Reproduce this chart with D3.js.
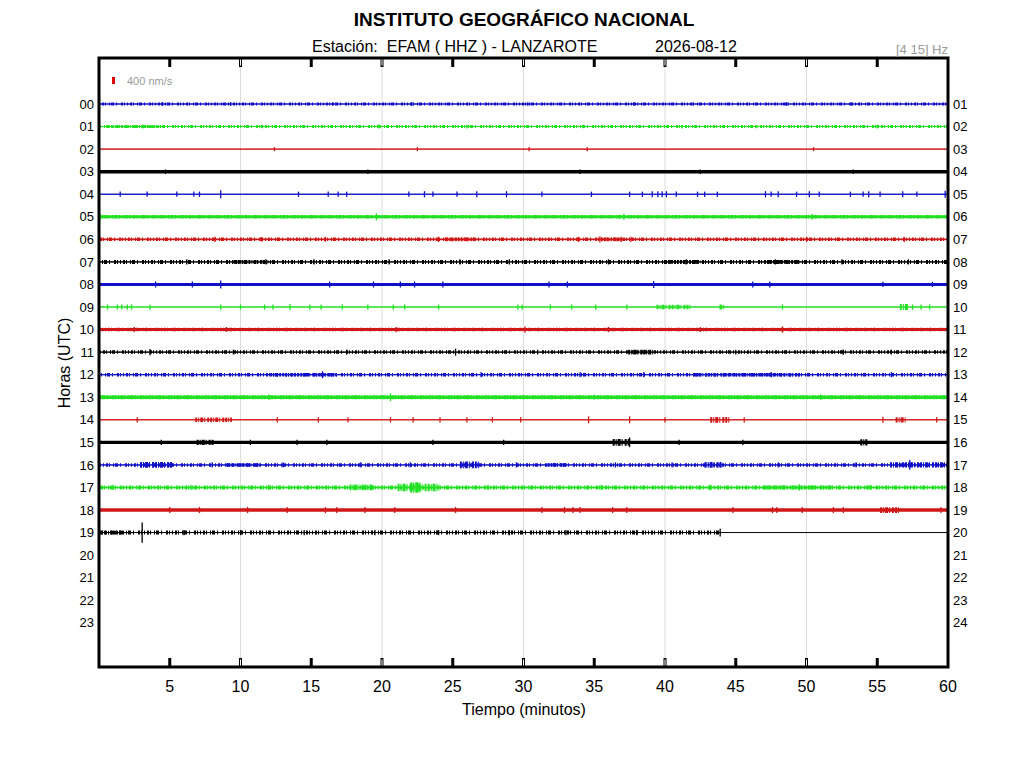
<!DOCTYPE html>
<html>
<head>
<meta charset="utf-8">
<script src="https://cdn.jsdelivr.net/npm/d3@7"></script>
<style>
  body { margin: 0; background: #fff; }
  text { font-family: Arial, "Liberation Sans", sans-serif; }
</style>
</head>
<body>
<div id="chartArea"></div>
<script>
const width = 1024;
const height = 768;

// etiquetas
const leftLabels = ["00","01","02","03","04","05","06","07","08","09","10","11",
                    "12","13","14","15","16","17","18","19","20","21","22","23"];
const rightLabels = ["01","02","03","04","05","06","07","08","09","10","11","12",
                     "13","14","15","16","17","18","19","20","21","22","23","24"];
const minuteTicks = [5, 10, 15, 20, 25, 30, 35, 40, 45, 50, 55, 60];
const gridMinutes = [10, 20, 30, 40, 50];
const traceColors = ["#1010c8", "#22e022", "#d01818", "#000000"];

const coreAmp  = [60, 60, 40, 200, 45, 170, 110, 45, 170, 45, 170, 45, 60, 200, 50, 180, 60, 110, 200, 60];
const speckAmp = [170, 170, 0, 0, 0, 200, 200, 230, 0, 0, 200, 200, 200, 230, 0, 0, 200, 230, 0, 230];
const traceEnd = [60, 60, 60, 60, 60, 60, 60, 60, 60, 60, 60, 60, 60, 60, 60, 60, 60, 60, 60, 43.9];

// eventos cortos [minuto, amplitud nm/s]
const spikes = [
  /*00*/ [[4.5,230],[9.3,230],[16.5,200],[22.1,230],[30.3,200],[37.8,230],[42.0,200],[48.6,230],[53.2,200]],
  /*01*/ [[3.1,230],[11.5,200],[19.8,230],[26.0,230],[34.2,200],[41.2,230],[46.5,200],[55.0,230]],
  /*02*/ [[12.4,230],[22.5,230],[30.4,230],[34.5,230],[50.5,230]],
  /*03*/ [[4.7,260],[19.0,260],[34.0,260],[42.5,260],[53.3,260]],
  /*04*/ [[1.5,300],[3.4,300],[5.5,300],[6.7,300],[7.1,300],[8.6,450],[14.1,300],[16.2,300],[16.9,300],
          [17.5,300],[21.9,300],[23.0,350],[23.6,300],[25.3,300],[26.7,350],[28.8,350],[31.3,300],[34.8,300],
          [37.5,300],[38.4,300],[39.1,350],[39.5,350],[39.8,350],[40.1,350],[40.8,300],[42.3,300],[42.8,300],
          [43.7,300],[47.1,350],[47.5,300],[48.0,350],[49.3,300],[50.2,350],[50.9,300],[53.1,300],[54.0,300],
          [54.4,350],[55.2,300],[56.8,350],[57.8,300],[59.8,400]],
  /*05*/ [[0.1,350],[19.6,400],[37.1,350],[50.4,350]],
  /*06*/ [[8.2,300],[11.5,280],[16.0,280],[24.0,300],[33.9,300],[35.4,350],[36.9,300],[37.6,300],[50.0,280],[56.9,300]],
  /*07*/ [[6.2,300],[11.8,300],[15.2,300],[20.5,300],[25.5,300],[29.0,300],[36.0,300],[41.5,300],[47.8,300],[52.5,300],[57.2,300]],
  /*08*/ [[4.0,350],[6.6,350],[8.6,450],[16.3,350],[19.4,350],[21.3,350],[22.3,350],[24.3,350],[31.8,350],
          [33.1,350],[39.2,400],[46.2,350],[47.4,350],[55.4,300],[58.9,300]],
  /*09*/ [[0.6,300],[1.3,300],[1.6,300],[2.0,300],[2.3,300],[3.6,300],[8.6,300],[10.0,300],[11.7,300],[12.3,300],
          [13.5,350],[14.9,300],[15.7,300],[17.2,300],[19.0,300],[20.8,300],[21.6,300],[24.0,300],[29.6,300],
          [29.9,300],[31.9,300],[33.4,300],[35.1,300],[37.3,300],[43.9,300],[48.3,300],[57.5,300],[58.1,300],[58.7,300]],
  /*10*/ [[2.5,300],[9.0,280],[21.0,300],[30.1,350],[36.0,300],[42.5,280],[48.3,350]],
  /*11*/ [[3.6,350],[9.5,280],[17.5,280],[25.2,400],[31.0,280],[45.0,280],[52.6,300],[56.0,280]],
  /*12*/ [[15.8,400],[27.0,300],[34.0,300],[38.5,300],[47.5,300],[56.0,300]],
  /*13*/ [[20.6,450],[12.0,300],[35.0,300],[51.0,300]],
  /*14*/ [[2.7,300],[12.6,300],[15.5,300],[17.6,300],[20.6,300],[22.2,300],[24.1,300],[26.0,300],[27.8,300],
          [29.8,300],[34.6,400],[37.5,400],[40.0,300],[45.6,300],[55.4,350],[59.2,300]],
  /*15*/ [[4.4,300],[10.7,300],[14.0,300],[16.1,300],[23.6,300],[28.6,300],[37.5,550],[41.0,300],[45.5,300]],
  /*16*/ [[8.0,300],[13.0,300],[18.5,300],[22.0,300],[29.5,300],[36.5,300],[40.5,300],[48.0,300],[53.5,300],[57.3,550]],
  /*17*/ [[1.0,300],[6.5,300],[12.0,300],[27.5,300],[35.5,300],[43.2,350],[49.5,350],[54.5,300]],
  /*18*/ [[5.0,350],[7.1,350],[10.5,350],[13.3,350],[16.0,350],[16.8,350],[18.8,350],[20.9,350],[25.2,350],
          [31.3,350],[32.9,350],[33.5,350],[34.0,350],[36.3,350],[37.3,350],[44.8,350],[47.6,350],[47.9,350],
          [49.7,350],[51.9,350],[52.6,350],[59.5,350]],
  /*19*/ [[3.05,1150],[6.0,300],[10.0,300],[14.5,300],[19.5,300],[24.0,300],[29.0,300],[33.0,300],[38.0,300],[43.9,450]]
];

// tramos de mayor actividad [inicio, fin, amplitud nm/s]
const bursts = [
  /*00*/ [],
  /*01*/ [[0.5,4.5,160]],
  /*02*/ [],
  /*03*/ [],
  /*04*/ [],
  /*05*/ [],
  /*06*/ [[24.5,26.5,220],[35.5,37.0,220]],
  /*07*/ [[9.5,12.0,220],[40.0,42.5,220],[47.0,49.5,220]],
  /*08*/ [],
  /*09*/ [[39.4,41.8,260],[43.9,44.2,260],[56.6,57.2,350]],
  /*10*/ [],
  /*11*/ [[37.4,39.3,260]],
  /*12*/ [[12.1,16.8,200],[42.0,49.5,200]],
  /*13*/ [],
  /*14*/ [[6.8,9.4,260],[43.2,44.6,330],[56.3,57.0,300]],
  /*15*/ [[6.9,8.1,300],[36.3,37.5,380],[53.8,54.3,350]],
  /*16*/ [[2.9,5.2,330],[9.0,11.4,200],[25.5,26.9,380],[31.7,33.1,220],[42.8,44.0,330],[55.9,59.9,300]],
  /*17*/ [[17.7,19.4,330],[21.1,24.1,420],[22.0,22.8,600],[46.9,51.9,220]],
  /*18*/ [[55.2,56.6,330]],
  /*19*/ [[0.0,1.8,220]]
];

const scaleRef = 400;     // barra de escala, nm/s
const speckDash = "1 2 2 1 1 3 1 1 3 2 1 4 2 1 1 2";
const burstDash = "2 1 1 1 3 1 1 2 2 1";

let svg;

function initializeVisualization() {
    svg = d3.select("#chartArea")
        .append("svg")
        .attr("width", width)
        .attr("height", height);
}

function drawChart() {
    const margin = { left: 99, right: 948, top: 58, bottom: 667 };

    const x = d3.scaleLinear().domain([0, 60]).range([margin.left, margin.right]);
    const y = d3.scaleLinear().domain([-2.04, 24.96]).range([margin.top, margin.bottom]);
    const amp = d3.scaleLinear().domain([0, scaleRef]).range([0, 7]);

    // rejilla
    svg.append("g")
        .selectAll("line")
        .data(gridMinutes)
        .enter().append("line")
        .attr("x1", d => x(d)).attr("x2", d => x(d))
        .attr("y1", margin.top).attr("y2", margin.bottom)
        .attr("stroke", "#dcdcdc")
        .attr("stroke-width", 1);

    // trazas
    const traces = svg.append("g");
    coreAmp.forEach((c, h) => {
        const y0 = y(h);
        const color = traceColors[h % 4];
        const g = traces.append("g");

        g.append("line")
            .attr("x1", x(0)).attr("x2", x(60))
            .attr("y1", y0).attr("y2", y0)
            .attr("stroke", color)
            .attr("stroke-width", 1);

        if (speckAmp[h] > 0) {
            g.append("line")
                .attr("x1", x(0)).attr("x2", x(traceEnd[h]))
                .attr("y1", y0).attr("y2", y0)
                .attr("stroke", color)
                .attr("stroke-width", amp(speckAmp[h]))
                .attr("stroke-dasharray", speckDash)
                .attr("stroke-dashoffset", h * 5);
        }

        g.append("line")
            .attr("x1", x(0)).attr("x2", x(traceEnd[h]))
            .attr("y1", y0).attr("y2", y0)
            .attr("stroke", color)
            .attr("stroke-width", Math.max(1, amp(c)));

        g.selectAll("line.bst")
            .data(bursts[h])
            .enter().append("line")
            .attr("class", "bst")
            .attr("x1", d => x(d[0])).attr("x2", d => x(d[1]))
            .attr("y1", y0).attr("y2", y0)
            .attr("stroke", color)
            .attr("stroke-width", d => amp(d[2]))
            .attr("stroke-dasharray", burstDash);

        g.selectAll("line.spk")
            .data(spikes[h])
            .enter().append("line")
            .attr("class", "spk")
            .attr("x1", d => x(d[0])).attr("x2", d => x(d[0]))
            .attr("y1", d => y0 - amp(d[1]) / 2)
            .attr("y2", d => y0 + amp(d[1]) / 2)
            .attr("stroke", color)
            .attr("stroke-width", 1.3);
    });

    // marco
    svg.append("rect")
        .attr("x", margin.left).attr("y", margin.top)
        .attr("width", margin.right - margin.left)
        .attr("height", margin.bottom - margin.top)
        .attr("fill", "none")
        .attr("stroke", "#000")
        .attr("stroke-width", 3);

    // marcas superiores e inferiores
    const ticks = svg.append("g");
    minuteTicks.filter(d => d < 60).forEach(d => {
        [[margin.top, margin.top + 9], [margin.bottom - 9, margin.bottom]].forEach(([a, b]) => {
            ticks.append("line")
                .attr("x1", x(d)).attr("x2", x(d))
                .attr("y1", a).attr("y2", b)
                .attr("stroke", "#000")
                .attr("stroke-width", 3);
            if (d % 10 === 0) {
                ticks.append("line")
                    .attr("x1", x(d)).attr("x2", x(d))
                    .attr("y1", a + 1.5).attr("y2", b - 1.5)
                    .attr("stroke", "#fff")
                    .attr("stroke-width", 1);
            }
        });
    });

    svg.append("g")
        .selectAll("text")
        .data(minuteTicks)
        .enter().append("text")
        .attr("x", d => x(d))
        .attr("y", 692)
        .attr("text-anchor", "middle")
        .style("font-size", "16px")
        .text(d => d);

    // etiquetas de hora
    svg.append("g")
        .selectAll("text")
        .data(leftLabels)
        .enter().append("text")
        .attr("x", 94)
        .attr("y", (d, i) => y(i))
        .attr("dy", "0.36em")
        .attr("text-anchor", "end")
        .style("font-size", "13px")
        .text(d => d);

    svg.append("g")
        .selectAll("text")
        .data(rightLabels)
        .enter().append("text")
        .attr("x", 953)
        .attr("y", (d, i) => y(i))
        .attr("dy", "0.36em")
        .attr("text-anchor", "start")
        .style("font-size", "13px")
        .text(d => d);

    // barra de escala
    svg.append("rect")
        .attr("x", 112).attr("y", 77)
        .attr("width", 3).attr("height", amp(scaleRef))
        .attr("fill", "#e00000");
    svg.append("text")
        .attr("x", 127).attr("y", 85)
        .attr("fill", "#999")
        .style("font-size", "11px")
        .text(scaleRef + " nm/s");

    // titulos
    svg.append("text")
        .attr("x", 524).attr("y", 26)
        .attr("text-anchor", "middle")
        .style("font-size", "19px")
        .style("font-weight", "bold")
        .text("INSTITUTO GEOGRÁFICO NACIONAL");

    svg.append("text")
        .attr("x", 312).attr("y", 52)
        .style("font-size", "16px")
        .style("white-space", "pre")
        .attr("xml:space", "preserve")
        .text("Estación:  EFAM ( HHZ ) - LANZAROTE");

    svg.append("text")
        .attr("x", 655).attr("y", 52)
        .style("font-size", "16px")
        .text("2026-08-12");

    svg.append("text")
        .attr("x", 948).attr("y", 54)
        .attr("text-anchor", "end")
        .attr("fill", "#999")
        .style("font-size", "13px")
        .text("[4 15] Hz");

    svg.append("text")
        .attr("x", 524).attr("y", 715)
        .attr("text-anchor", "middle")
        .style("font-size", "16px")
        .text("Tiempo (minutos)");

    svg.append("text")
        .attr("transform", "translate(70,363) rotate(-90)")
        .attr("text-anchor", "middle")
        .style("font-size", "16px")
        .text("Horas (UTC)");
}

initializeVisualization();
drawChart();
</script>
</body>
</html>
